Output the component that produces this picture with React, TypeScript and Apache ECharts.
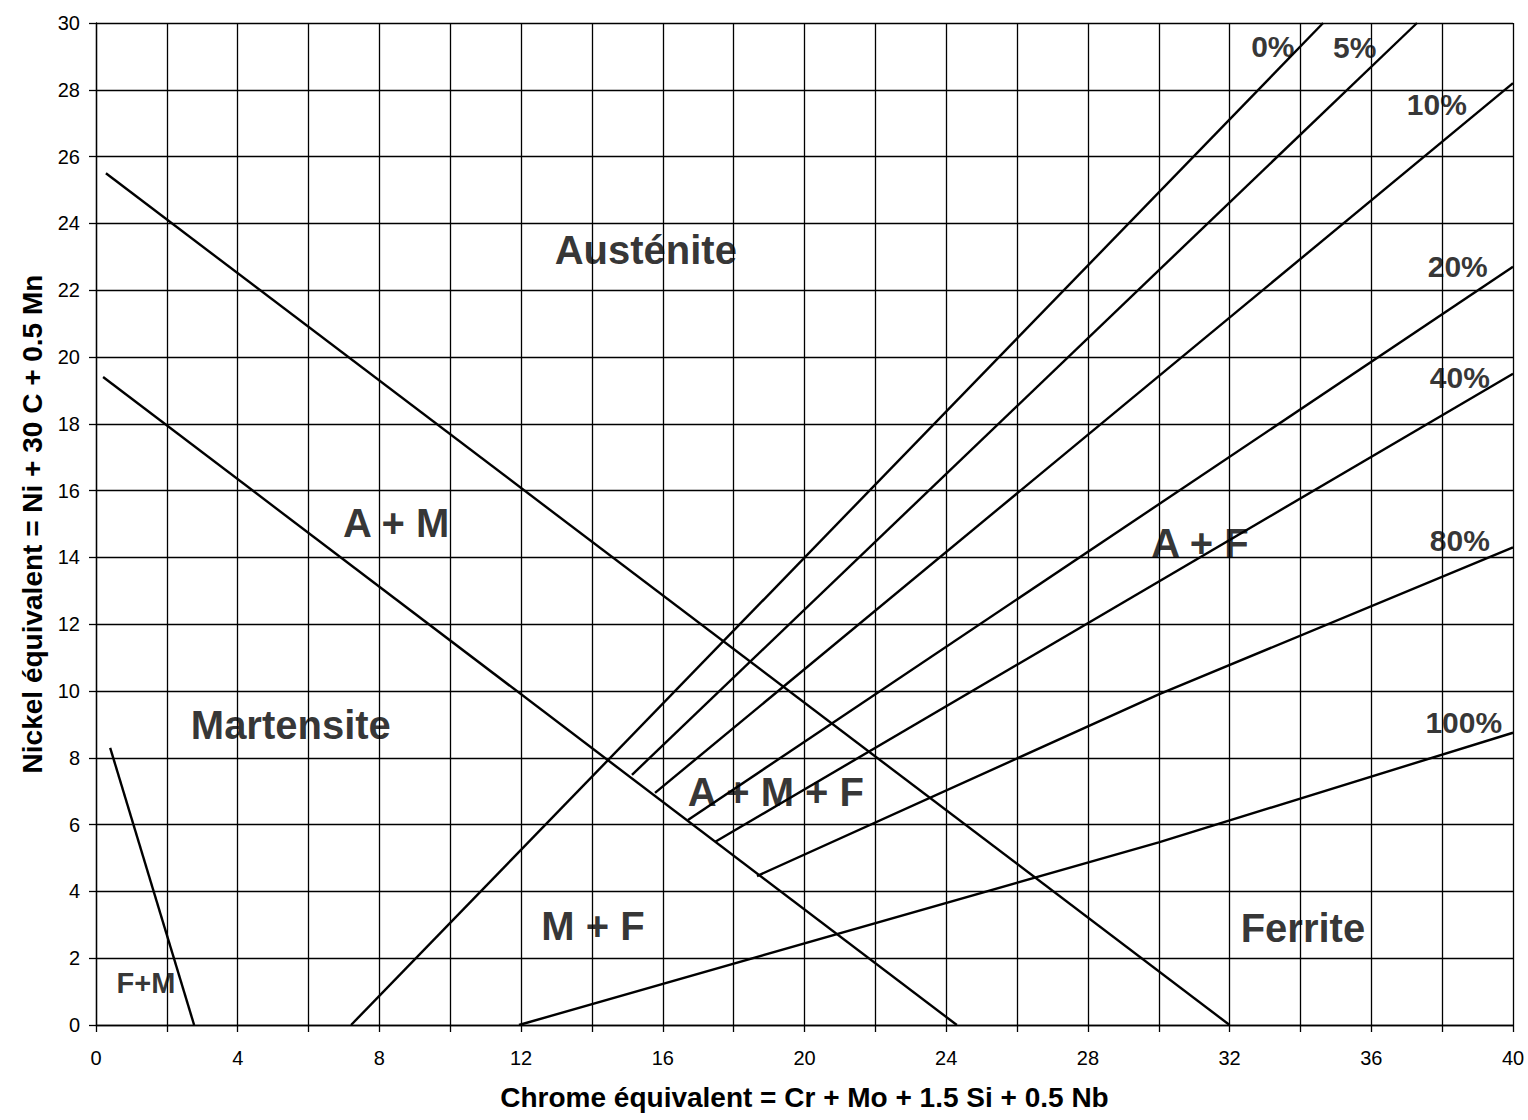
import React, { useEffect, useRef } from 'react';
import * as echarts from 'echarts';

// Phase boundary lines [Cr_eq, Ni_eq]
const austeniteBoundary = [[0.28, 25.5], [32, 0]];
const martensiteBoundary = [[0.2, 19.4], [24.3, 0]];
const fmBoundary = [[0.4, 8.3], [2.77, 0]];

// Ferrite iso-percentage lines
const ferrite0 = [[7.2, 0], [34.64, 30]];
const ferrite5 = [[15.13, 7.49], [37.29, 30]];
const ferrite10 = [[15.78, 6.95], [40, 28.2]];
const ferrite20 = [[16.71, 6.14], [40, 22.7]];
const ferrite40 = [[17.47, 5.48], [40, 19.5]];
const ferrite80 = [[18.66, 4.46], [30, 9.9], [40, 14.3]];
const ferrite100 = [[11.94, 0], [30, 5.47], [40, 8.75]];

// Region labels: [x, y, text]
const regionLabels: [number, number, string][] = [
  [15.52, 23.2, 'Austénite'],
  [8.47, 15.03, 'A + M'],
  [31.16, 14.43, 'A + F'],
  [5.5, 8.98, 'Martensite'],
  [19.19, 6.98, 'A + M + F'],
  [14.03, 2.96, 'M + F'],
  [34.07, 2.9, 'Ferrite'],
];
const smallRegionLabels: [number, number, string][] = [[1.41, 1.26, 'F+M']];
const percentLabels: [number, number, string][] = [
  [33.22, 29.31, '0%'],
  [35.53, 29.28, '5%'],
  [37.85, 27.57, '10%'],
  [38.44, 22.72, '20%'],
  [38.5, 19.4, '40%'],
  [38.5, 14.52, '80%'],
  [38.61, 9.07, '100%'],
];

const xMin = 0, xMax = 40, xStep = 2, xLabelStep = 4;
const yMin = 0, yMax = 30, yStep = 2;

const FONT = '"Liberation Sans", Arial, sans-serif';

const lineSeries = (data: number[][]) => ({
  type: 'line',
  data,
  symbol: 'none',
  lineStyle: { color: '#000', width: 2.4 },
  silent: true,
});

const labelSeries = (items: [number, number, string][], size: number) => ({
  type: 'scatter',
  data: items.map(([x, y, t]) => ({ value: [x, y], name: t })),
  symbolSize: 1,
  itemStyle: { color: 'rgba(0,0,0,0)' },
  label: {
    show: true,
    position: 'inside',
    formatter: (p: any) => p.name,
    color: '#000',
    textBorderWidth: 0,
    fontFamily: FONT,
    fontWeight: 'bold',
    fontSize: size,
  },
  silent: true,
});

export default function App() {
  const ref = useRef<HTMLDivElement>(null);
  useEffect(() => {
    if (!ref.current) return;
    const chart = echarts.init(ref.current, undefined, { renderer: 'svg' });
    chart.setOption({
      animation: false,
      backgroundColor: '#fff',
      grid: { left: 96, top: 23, right: 15, bottom: 95 },
      xAxis: {
        type: 'value',
        min: xMin,
        max: xMax,
        interval: xStep,
        name: 'Chrome équivalent = Cr + Mo + 1.5 Si + 0.5 Nb',
        nameLocation: 'middle',
        nameGap: 58,
        nameTextStyle: { fontFamily: FONT, fontWeight: 'bold', fontSize: 28, color: '#000' },
        axisLine: { lineStyle: { color: '#000', width: 1.3 } },
        axisTick: { show: true, length: 7, lineStyle: { color: '#000', width: 1.3 } },
        axisLabel: {
          margin: 23,
          fontFamily: FONT,
          fontSize: 20,
          color: '#000',
          formatter: (v: number) => (v % xLabelStep === 0 ? String(v) : ''),
        },
        splitLine: { show: true, lineStyle: { color: '#000', width: 1.3 } },
      },
      yAxis: {
        type: 'value',
        min: yMin,
        max: yMax,
        interval: yStep,
        name: 'Nickel équivalent = Ni + 30 C + 0.5 Mn',
        nameLocation: 'middle',
        nameGap: 50,
        nameTextStyle: { fontFamily: FONT, fontWeight: 'bold', fontSize: 28, color: '#000' },
        axisLine: { show: true, lineStyle: { color: '#000', width: 1.3 } },
        axisTick: { show: true, length: 7, lineStyle: { color: '#000', width: 1.3 } },
        axisLabel: { margin: 16, fontFamily: FONT, fontSize: 20, color: '#000' },
        splitLine: { show: true, lineStyle: { color: '#000', width: 1.3 } },
      },
      series: [
        lineSeries(austeniteBoundary),
        lineSeries(martensiteBoundary),
        lineSeries(fmBoundary),
        lineSeries(ferrite0),
        lineSeries(ferrite5),
        lineSeries(ferrite10),
        lineSeries(ferrite20),
        lineSeries(ferrite40),
        lineSeries(ferrite80),
        lineSeries(ferrite100),
        labelSeries(regionLabels, 40),
        labelSeries(smallRegionLabels, 29),
        labelSeries(percentLabels, 30),
      ],
    });
    return () => chart.dispose();
  }, []);
  return (
    <div
      ref={ref}
      style={{ position: 'absolute', left: 0, top: 0, width: 1528, height: 1120, background: '#fff' }}
    />
  );
}
